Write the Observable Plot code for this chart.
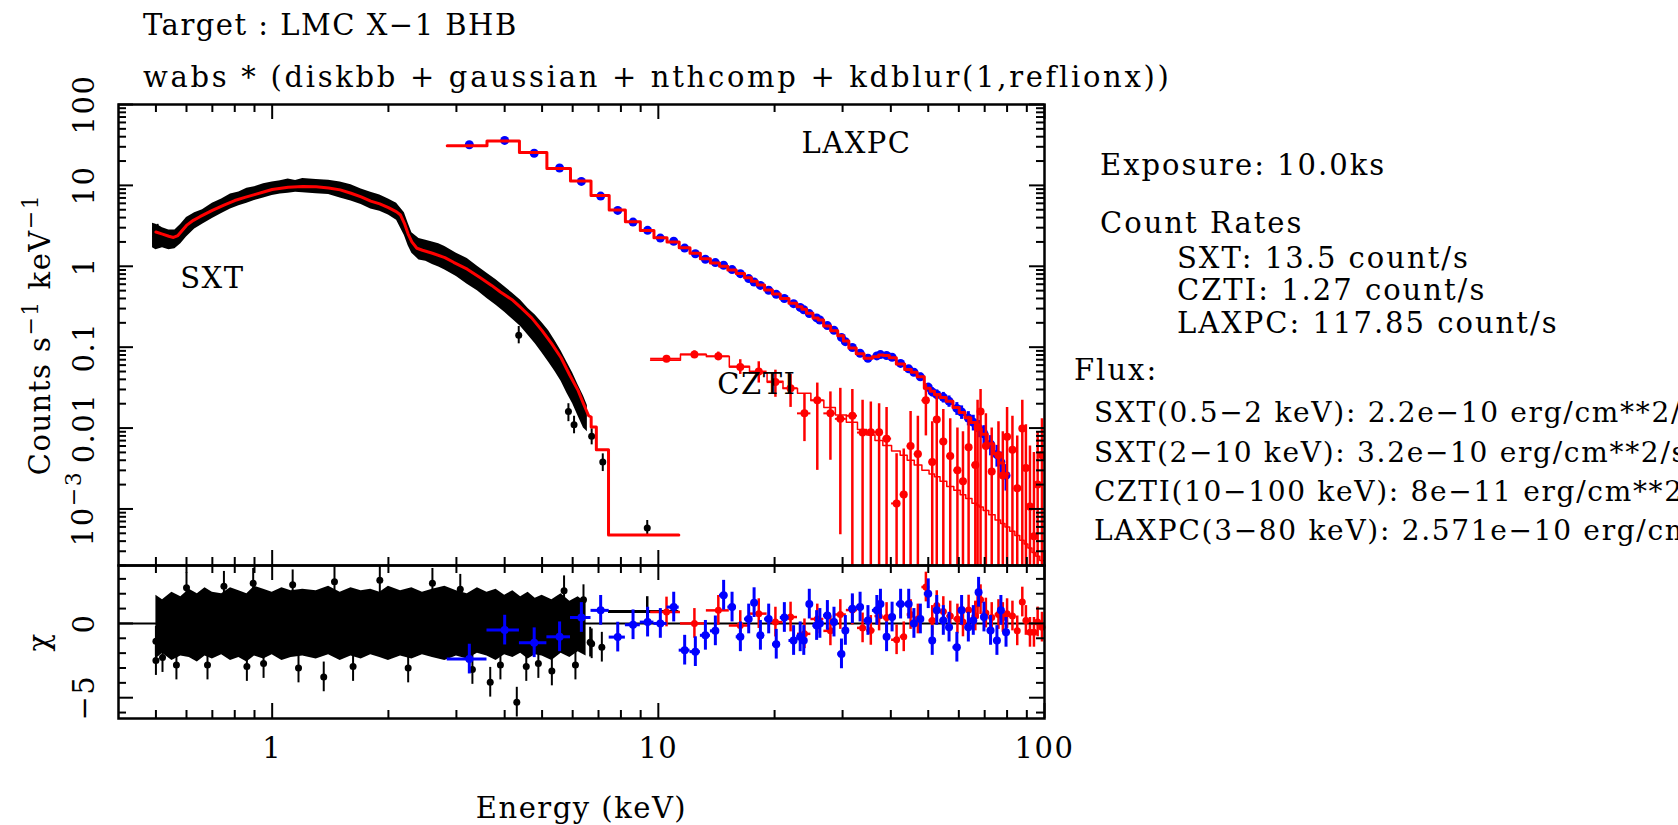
<!DOCTYPE html>
<html><head><meta charset="utf-8">
<script src="https://cdn.jsdelivr.net/npm/d3@7"></script>
<script src="https://cdn.jsdelivr.net/npm/@observablehq/plot@0.6"></script>
<style>
body{margin:0;background:#fff;overflow:hidden}
#wrap{position:relative;width:1678px;height:825px;overflow:hidden;background:#fff}
#wrap svg{position:absolute;left:0}
</style></head><body><div id="wrap"></div>
<script>
// ---------------- DATA ----------------
// SXT folded model (counts/s/keV)
const sxtModelE = [0.50,0.52,0.54,0.555,0.57,0.60,0.625,0.65,0.70,0.75,0.80,0.85,0.90,0.95,1.0,1.1,1.2,1.3,1.4,1.5,1.6,1.7,1.8,1.9,2.0,2.1,2.15,2.2,2.25,2.3,2.37,2.45,2.6,2.8,2.95,3.2,3.46,3.7,3.9,4.2,4.4,4.7,5.0,5.3,5.6,5.9,6.2,6.4,6.6,6.70];
const sxtModelC = [2.65,2.5,2.35,2.27,2.4,3.2,3.7,4.1,4.9,5.7,6.5,7.1,7.7,8.3,8.9,9.5,9.7,9.6,9.3,8.8,8.0,7.2,6.4,5.9,5.3,4.7,4.3,3.4,2.5,2.0,1.67,1.58,1.45,1.28,1.12,0.92,0.72,0.58,0.48,0.38,0.31,0.23,0.16,0.11,0.074,0.045,0.029,0.020,0.0142,0.0137];
// SXT model last wide bins (step)
const sxtTailLo = [6.70,6.91,7.43];
const sxtTailHi = [6.91,7.43,11.3];
const sxtTailC  = [0.0103,0.0054,4.78e-4];
// SXT data envelope (dense black band of points + error bars)
const sxtBandE  = [0.49,0.50,0.52,0.54,0.56,0.58,0.60,0.63,0.66,0.70,0.74,0.78,0.82,0.86,0.90,0.95,1.0,1.05,1.1,1.15,1.2,1.3,1.4,1.5,1.6,1.7,1.8,1.9,2.0,2.1,2.2,2.25,2.3,2.4,2.5,2.6,2.7,2.8,3.0,3.2,3.4,3.6,3.8,4.0,4.2,4.4,4.6,4.8,5.0,5.2,5.4,5.6,5.8,6.0,6.2,6.4,6.55];
const sxtBandHi = [3.4,3.3,3.0,2.8,2.8,3.3,4.0,4.6,5.0,6.0,6.8,7.8,8.3,9.2,9.6,10.5,11.0,11.4,12.0,11.5,12.2,11.8,11.6,11.0,10.2,9.0,8.2,7.6,6.8,6.0,4.6,3.4,2.6,2.2,2.1,2.0,1.9,1.75,1.45,1.25,1.0,0.82,0.68,0.56,0.46,0.38,0.30,0.25,0.20,0.16,0.12,0.09,0.065,0.048,0.034,0.025,0.019];
const sxtBandLo = [1.7,1.6,1.7,1.6,1.65,1.9,2.3,2.9,3.3,3.9,4.5,5.1,5.6,6.0,6.5,7.0,7.5,7.8,8.0,8.2,8.1,7.9,7.7,7.0,6.4,5.8,5.1,4.8,4.3,3.7,2.4,1.8,1.45,1.2,1.15,1.05,0.98,0.9,0.75,0.6,0.5,0.40,0.33,0.27,0.22,0.18,0.14,0.11,0.085,0.065,0.05,0.038,0.027,0.02,0.014,0.010,0.009];
// isolated SXT points
const sxtPtE  = [0.50,0.505,4.35,5.85,6.05,6.72,7.18,9.36];
const sxtPtC  = [2.0,2.9,0.14,0.016,0.011,0.0079,0.0038,5.8e-4];
const sxtPtLo = [1.7,2.6,0.11,0.012,0.0085,0.0062,0.0029,4.6e-4];
const sxtPtHi = [2.4,3.3,0.18,0.020,0.014,0.0098,0.0048,7.2e-4];

// LAXPC data
const lxE = [3.24,4.00,4.77,5.55,6.32,7.09,7.85,8.60,9.38,10.12,10.96,11.70,12.47,13.24,14.05,14.76,15.52,16.31,17.14,17.7,18.38,19.31,20.2,21.2,22.4,23.3,23.8,24.6,25.7,26.2,27.4,28.5,29.8,30.5,31.8,33.3,34.9,36.8,37.6,39.0,40.3,42.4,44.5,45.9,47.7,50.0,51.2,52.6,54.7,56.6,59.3,61.0,63.5,65.4,67.5,69.7,72.5,75.3,77.1,79.5];
const lxC = [31.8,36.0,25.0,16.4,11.2,7.38,4.91,3.52,2.78,2.23,2.04,1.68,1.43,1.22,1.11,1.03,0.91,0.81,0.705,0.64,0.58,0.505,0.45,0.40,0.345,0.31,0.29,0.26,0.23,0.217,0.185,0.162,0.132,0.117,0.099,0.084,0.073,0.078,0.081,0.079,0.075,0.063,0.054,0.049,0.043,0.032,0.028,0.026,0.024,0.0215,0.0175,0.0158,0.0133,0.0118,0.0100,0.0085,0.0063,0.0047,0.0038,0.0026];
const lxErr = [0.03,0.03,0.03,0.03,0.03,0.03,0.03,0.03,0.03,0.03,0.03,0.03,0.03,0.03,0.03,0.03,0.03,0.03,0.03,0.03,0.04,0.04,0.04,0.04,0.04,0.04,0.04,0.04,0.04,0.04,0.05,0.05,0.05,0.05,0.05,0.06,0.06,0.06,0.06,0.06,0.07,0.08,0.09,0.10,0.11,0.12,0.13,0.14,0.15,0.16,0.18,0.19,0.20,0.22,0.24,0.26,0.28,0.30,0.33,0.36];
const lxModel = [31.0,35.5,25.5,16.2,11.3,7.5,4.95,3.55,2.76,2.25,2.0,1.70,1.45,1.24,1.10,1.00,0.90,0.815,0.72,0.655,0.585,0.51,0.455,0.40,0.35,0.315,0.295,0.262,0.23,0.217,0.183,0.16,0.138,0.119,0.098,0.083,0.073,0.076,0.080,0.079,0.074,0.062,0.053,0.049,0.043,0.031,0.0285,0.026,0.0238,0.0215,0.018,0.0156,0.0134,0.0117,0.0098,0.0084,0.0064,0.0048,0.0037,0.0027];
const lxChi = [-2.4,-0.45,-1.3,-0.9,0.4,0.88,-0.92,-0.09,0.09,0.0,1.1,-1.8,-1.9,-0.8,-0.5,1.9,1.1,-0.9,0.3,1.4,-0.8,0.3,-1.4,0.4,-1.15,-0.9,-1.15,1.3,-0.14,0.0,0.54,0.09,-2.05,-0.47,0.99,1.1,0.2,0.88,1.3,-0.9,0.43,1.3,1.3,0.0,0.3,2.0,-1.15,0.88,0.2,-0.25,-1.6,0.88,-0.25,0.2,2.1,0.43,-0.47,-1.15,0.88,-0.6];
const lxFirstEdge = 2.84, lxLastEdge = 80.5;

// CZTI data
const czE = [10.5,12.4,14.3,16.3,18.2,20.1,22.0,23.9,25.8,27.9,29.6,31.8,33.8,35.5,37.3,39.0,41.4,43.2,45.0,47.0,49.3,51.2,52.6,54.7,57.0,59.5,61.5,63.6,66.2,67.1,68.3,70.5,73.0,76.0,78.0,80.0,82.6,85.0,87.6,89.5,91.7,93.9,96.0,98.5];
const czC = [0.072,0.081,0.077,0.057,0.050,0.037,0.031,0.0152,0.022,0.0152,0.013,0.0142,0.0088,0.0089,0.0089,0.0074,0.00117,0.00151,0.006,0.00477,0.022,0.0038,0.0128,0.0068,0.0045,0.003,0.0022,0.0058,0.0035,0.0103,0.016,0.006,0.0029,0.0046,0.0026,0.0078,0.0054,0.0018,0.0099,0.0032,0.00107,0.00046,0.002,0.0046];
const czHi = [0.079,0.090,0.087,0.070,0.066,0.052,0.046,0.026,0.036,0.028,0.031,0.030,0.022,0.021,0.020,0.018,0.0048,0.0055,0.016,0.014,0.035,0.012,0.025,0.017,0.013,0.010,0.009,0.014,0.011,0.022,0.030,0.015,0.010,0.012,0.009,0.018,0.014,0.008,0.022,0.011,0.006,0.005,0.009,0.013];
const czLo = [0.066,0.073,0.068,0.046,0.036,0.024,0.018,0.0068,0.003,0.004,0.00048,1e-6,1e-6,1e-6,1e-6,1e-6,1e-6,1e-6,1e-6,1e-6,0.008,1e-6,1e-6,1e-6,1e-6,1e-6,1e-6,1e-6,1e-6,1e-6,1e-6,1e-6,1e-6,1e-6,1e-6,1e-6,1e-6,1e-6,1e-6,1e-6,1e-6,1e-6,1e-6,1e-6];
const czModel = [0.069,0.082,0.077,0.058,0.048,0.038,0.031,0.027,0.022,0.018,0.0145,0.0118,0.0096,0.0082,0.0070,0.0061,0.0052,0.0046,0.0040,0.0035,0.0030,0.0027,0.0025,0.0022,0.0019,0.0017,0.0015,0.00135,0.00118,0.00112,0.00106,0.00096,0.00085,0.00073,0.00066,0.0006,0.00053,0.00047,0.00041,0.00037,0.00033,0.00029,0.00026,0.00023];
const czChi = [0.77,0.0,0.88,-0.14,0.66,0.09,0.43,-0.7,0.3,-0.5,0.6,0.9,-0.3,-0.47,0.5,0.4,-1.1,-0.9,0.6,0.3,2.45,0.2,1.2,0.8,0.5,0.3,0.1,0.9,0.5,1.3,1.6,0.7,0.4,0.6,0.4,0.66,0.5,-0.5,1.44,0.2,-0.6,-0.6,0.1,-0.25];
const czFirstEdge = 9.55, czLastEdge = 100;

// SXT residuals (delchi): dense band envelope + isolated points
const resBandE  = [0.50,0.52,0.55,0.58,0.61,0.64,0.67,0.70,0.74,0.78,0.82,0.86,0.90,0.95,1.0,1.06,1.12,1.2,1.3,1.4,1.5,1.6,1.7,1.8,1.9,2.0,2.15,2.3,2.45,2.6,2.8,3.0,3.2,3.4,3.6,3.8,4.0,4.2,4.4,4.6,4.8,5.0,5.3,5.6,5.9,6.2,6.5];
const resBandHi = [1.9,1.6,2.1,1.8,2.3,2.0,2.4,2.1,2.0,2.4,2.2,2.0,2.5,2.3,2.1,2.4,2.2,2.3,2.2,2.5,2.1,2.4,2.2,2.3,2.1,2.5,2.2,2.4,2.1,2.3,2.5,2.2,2.0,2.4,2.1,2.3,1.9,2.2,1.8,2.1,1.7,1.9,1.6,2.0,1.5,1.8,1.4];
const resBandLo = [-2.4,-2.0,-2.5,-2.2,-2.3,-2.6,-2.2,-2.4,-2.1,-2.5,-2.3,-2.6,-2.2,-2.4,-2.1,-2.5,-2.3,-2.2,-2.4,-2.1,-2.5,-2.2,-2.4,-2.1,-2.3,-2.5,-2.2,-2.4,-2.1,-2.3,-2.5,-2.2,-2.4,-2.0,-2.2,-2.5,-2.1,-2.3,-2.0,-2.4,-2.1,-2.2,-2.5,-2.0,-2.3,-1.9,-2.2];
const resPtE   = [0.50,0.50,0.52,0.565,0.60,0.68,0.75,0.86,0.893,0.95,1.13,1.17,1.36,1.45,1.62,1.9,2.25,2.6,3.07,3.3,3.67,3.9,4.30,4.55,4.89,5.3,5.7,6.1,6.4,6.66,6.72,7.14];
const resPtChi = [-1.2,-2.5,-2.3,-2.8,2.4,-2.8,2.5,-2.9,2.7,-2.7,2.6,-3.0,-3.6,2.8,-2.9,2.9,-3.0,2.7,2.3,-3.1,-3.96,-2.8,-5.3,-2.9,-2.7,-3.2,2.2,-2.8,1.6,-1.26,-1.37,-1.6];
const sxtLastE = [9.36], sxtLastChi = [0.8], sxtLastLo = [7.43], sxtLastHi = [11.3];

// Axis ticks and labels
const xMajor = [1, 10, 100];
const xMinor = [0.5,0.6,0.7,0.8,0.9,2,3,4,5,6,7,8,9,20,30,40,50,60,70,80,90];
const yMajor = [100, 10, 1, 0.1, 0.01, 0.001];
const yMajorLabels = ["100", "10", "1", "0.1", "0.01", ""];   // 10^-3 drawn with a raised exponent below
const yExpTick = 0.001, yExpBase = "10", yExpPow = "−3";
const rMajor = [0, -5];
const rMajorLabels = ["0", "−5"];
const rMinor = [3, 2, 1, -1, -2, -3, -4, -6];

const panelLabels = ["SXT", "LAXPC", "CZTI"];
const panelLabelE = [0.70, 32.6, 18.0];
const panelLabelC = [0.71, 33, 0.034];

const titleLine1 = "Target : LMC X−1 BHB";
const titleLine2 = "wabs * (diskbb + gaussian + nthcomp + kdblur(1,reflionx))";
const infoLines = ["Exposure: 10.0ks", "Count Rates", "SXT: 13.5 count/s", "CZTI: 1.27 count/s", "LAXPC: 117.85 count/s", "Flux:"];
const fluxLines = ["SXT(0.5−2 keV): 2.2e−10 erg/cm**2/s", "SXT(2−10 keV): 3.2e−10 erg/cm**2/s", "CZTI(10−100 keV): 8e−11 erg/cm**2/s", "LAXPC(3−80 keV): 2.571e−10 erg/cm**2/s"];

// ---------------- BUILD ----------------
const FONT = '"DejaVu Serif", serif';
const FS = 29;
const W = 1678, L = 118, R = 1044, T = 104, MID = 565, B = 718;
const FW = R - L, H1 = MID - T, H2 = B - MID;
const MAJ = 15, MIN = 8;

function edgesFrom(centers, first, last) {
  const e = [first];
  for (let i = 1; i < centers.length; i++) e.push(Math.sqrt(centers[i - 1] * centers[i]));
  e.push(last);
  return e;
}
function stepPoints(lo, hi, v) {
  const p = [];
  for (let i = 0; i < v.length; i++) { p.push({x: lo[i], y: v[i]}); p.push({x: hi[i], y: v[i]}); }
  return p;
}
const lxEdges = edgesFrom(lxE, lxFirstEdge, lxLastEdge);
const czEdges = edgesFrom(czE, czFirstEdge, czLastEdge);

const sxtModel = sxtModelE.map((e, i) => ({x: e, y: sxtModelC[i]}))
  .concat(stepPoints(sxtTailLo, sxtTailHi, sxtTailC));
const sxtBand = sxtBandE.map((e, i) => ({x: e, hi: sxtBandHi[i], lo: sxtBandLo[i]}));
const sxtPts = sxtPtE.map((e, i) => ({x: e, y: sxtPtC[i], lo: sxtPtLo[i], hi: sxtPtHi[i]}));
const lx = lxE.map((e, i) => ({x: e, y: lxC[i], lo: lxC[i] * (1 - lxErr[i]), hi: lxC[i] * (1 + lxErr[i]), e0: lxEdges[i], e1: lxEdges[i + 1], chi: lxChi[i]}));
const lxStep = stepPoints(lxEdges.slice(0, -1), lxEdges.slice(1), lxModel);
const cz = czE.map((e, i) => ({x: e, y: czC[i], lo: czLo[i], hi: czHi[i], e0: czEdges[i], e1: czEdges[i + 1], chi: czChi[i]}));
const czStep = stepPoints(czEdges.slice(0, -1), czEdges.slice(1), czModel);
const resBand = resBandE.map((e, i) => ({x: e, hi: resBandHi[i], lo: resBandLo[i]}));
const resPts = resPtE.map((e, i) => ({x: e, chi: resPtChi[i]}));
const sxtLast = sxtLastE.map((e, i) => ({x: e, chi: sxtLastChi[i], e0: sxtLastLo[i], e1: sxtLastHi[i]}));

const yMinor = [];
for (const d of [1e-4, 1e-3, 1e-2, 1e-1, 1, 10]) for (let m = 2; m <= 9; m++) { const v = m * d; if (v >= 2e-4) yMinor.push(v); }

function xTicks(H) {
  const s = {stroke: "black", strokeWidth: 2};
  return [
    Plot.tickX(xMajor, {x: d => d, insetTop: H - MAJ, ...s}),
    Plot.tickX(xMajor, {x: d => d, insetBottom: H - MAJ, ...s}),
    Plot.tickX(xMinor, {x: d => d, insetTop: H - MIN, ...s}),
    Plot.tickX(xMinor, {x: d => d, insetBottom: H - MIN, ...s})
  ];
}
function yTicks(major, minor) {
  const s = {stroke: "black", strokeWidth: 2};
  return [
    Plot.tickY(major, {y: d => d, insetRight: FW - MAJ, ...s}),
    Plot.tickY(major, {y: d => d, insetLeft: FW - MAJ, ...s}),
    Plot.tickY(minor, {y: d => d, insetRight: FW - MIN, ...s}),
    Plot.tickY(minor, {y: d => d, insetLeft: FW - MIN, ...s})
  ];
}
const style = {fontFamily: FONT, fontSize: FS + "px", background: "transparent", overflow: "visible", letterSpacing: "1.5px"};

const main = Plot.plot({
  width: W, height: MID, marginTop: T, marginBottom: 0, marginLeft: L, marginRight: W - R,
  x: {type: "log", domain: [0.4, 100], axis: null},
  y: {type: "log", domain: [2e-4, 100], axis: null},
  style,
  marks: [
    // SXT
    Plot.areaY(sxtBand, {x: "x", y1: "lo", y2: "hi", fill: "black"}),
    Plot.ruleX(sxtPts, {x: "x", y1: "lo", y2: "hi", stroke: "black", strokeWidth: 2}),
    Plot.dot(sxtPts, {x: "x", y: "y", r: 3.5, fill: "black"}),
    Plot.line(sxtModel, {x: "x", y: "y", stroke: "red", strokeWidth: 3, clip: true}),
    // LAXPC
    Plot.ruleX(lx, {x: "x", y1: "lo", y2: "hi", stroke: "blue", strokeWidth: 3}),
    Plot.dot(lx, {x: "x", y: "y", r: 4.5, fill: "blue"}),
    Plot.line(lxStep, {x: "x", y: "y", stroke: "red", strokeWidth: 3, clip: true}),
    // CZTI
    Plot.line(czStep, {x: "x", y: "y", stroke: "red", strokeWidth: 1.5, clip: true}),
    Plot.ruleX(cz, {x: "x", y1: "lo", y2: "hi", stroke: "red", strokeWidth: 2.5, clip: true}),
    Plot.ruleY(cz, {y: "y", x1: "e0", x2: "e1", stroke: "red", strokeWidth: 2, clip: true}),
    Plot.dot(cz, {x: "x", y: "y", r: 4, fill: "red", clip: true}),
    // panel labels
    Plot.text(panelLabels, {x: (d, i) => panelLabelE[i], y: (d, i) => panelLabelC[i], text: d => d, fontSize: FS, fill: "black", textAnchor: "middle", lineAnchor: "middle"}),
    // axes
    ...xTicks(H1),
    ...yTicks(yMajor, yMinor),
    Plot.text(yMajor, {y: d => d, text: (d, i) => yMajorLabels[i], frameAnchor: "left", rotate: -90, dx: -25, lineAnchor: "bottom", textAnchor: "middle", fontSize: FS}),
    Plot.frame({stroke: "black", strokeWidth: 2.5})
  ]
});
main.style.top = "0px";

const resid = Plot.plot({
  width: W, height: 825 - MID, marginTop: 0, marginBottom: 825 - B, marginLeft: L, marginRight: W - R,
  x: {type: "log", domain: [0.4, 100], axis: null},
  y: {domain: [-6.4, 3.9], axis: null},
  style,
  marks: [
    Plot.ruleY([0], {stroke: "black", strokeWidth: 2}),
    Plot.areaY(resBand, {x: "x", y1: "lo", y2: "hi", fill: "black"}),
    Plot.ruleX(resPts, {x: "x", y1: d => d.chi - 1, y2: d => d.chi + 1, stroke: "black", strokeWidth: 2}),
    Plot.dot(resPts, {x: "x", y: "chi", r: 3.5, fill: "black"}),
    Plot.ruleY(sxtLast, {y: "chi", x1: "e0", x2: "e1", stroke: "black", strokeWidth: 3}),
    Plot.ruleX(sxtLast, {x: "x", y1: d => d.chi - 1, y2: d => d.chi + 1, stroke: "black", strokeWidth: 2.5}),
    // CZTI
    Plot.ruleX(cz, {x: "x", y1: d => d.chi - 1, y2: d => d.chi + 1, stroke: "red", strokeWidth: 2.5}),
    Plot.ruleY(cz, {y: "chi", x1: "e0", x2: "e1", stroke: "red", strokeWidth: 2.5}),
    Plot.dot(cz, {x: "x", y: "chi", r: 3.5, fill: "red"}),
    // LAXPC
    Plot.ruleX(lx, {x: "x", y1: d => d.chi - 1, y2: d => d.chi + 1, stroke: "blue", strokeWidth: 3}),
    Plot.ruleY(lx, {y: "chi", x1: "e0", x2: "e1", stroke: "blue", strokeWidth: 3}),
    Plot.dot(lx, {x: "x", y: "chi", r: 4, fill: "blue"}),
    // axes
    ...xTicks(H2),
    ...yTicks(rMajor, rMinor),
    Plot.text(rMajor, {y: d => d, text: (d, i) => rMajorLabels[i], frameAnchor: "left", rotate: -90, dx: -25, lineAnchor: "bottom", textAnchor: "middle", fontSize: FS}),
    Plot.text(["χ"], {text: d => d, frameAnchor: "left", rotate: -90, dx: -70, lineAnchor: "bottom", textAnchor: "middle", fontSize: FS}),
    Plot.text(xMajor, {x: d => d, text: d => String(d), frameAnchor: "bottom", lineAnchor: "top", dy: 19, fontSize: FS}),
    Plot.text(["Energy (keV)"], {text: d => d, frameAnchor: "bottom", lineAnchor: "top", dy: 79, fontSize: FS}),
    Plot.frame({stroke: "black", strokeWidth: 2.5})
  ]
});
resid.style.top = MID + "px";

const wrap = document.getElementById("wrap");
wrap.appendChild(main);
wrap.appendChild(resid);

// title, axis title with exponents, and information text
const over = d3.select(wrap).append("svg")
  .attr("width", W).attr("height", 825)
  .style("top", "0px").style("pointer-events", "none")
  .style("font-family", FONT).style("font-size", FS + "px");
over.append("text").attr("x", 143).attr("y", 35).style("letter-spacing", "1.5px").text(titleLine1);
over.append("text").attr("x", 143).attr("y", 87).style("letter-spacing", "2.7px").text(titleLine2);

// y axis title with raised exponents
const yl = over.append("text")
  .attr("transform", `translate(50,${(T + MID) / 2}) rotate(-90)`)
  .attr("text-anchor", "middle").style("letter-spacing", "1.5px");
yl.append("tspan").text("Counts s");
yl.append("tspan").attr("dy", -12).attr("font-size", 22).text("−1");
yl.append("tspan").attr("dy", 12).text(" keV");
yl.append("tspan").attr("dy", -12).attr("font-size", 22).text("−1");

// 10^-3 tick label placed with the plot's y scale
const yExpPos = main.scale("y").apply(yExpTick);
const ex = over.append("text")
  .attr("transform", `translate(${L - 25},${yExpPos}) rotate(-90)`)
  .attr("text-anchor", "middle").style("letter-spacing", "1.5px");
ex.append("tspan").text(yExpBase);
ex.append("tspan").attr("dy", -12).attr("font-size", 22).text(yExpPow);

const info = over.append("g").style("letter-spacing", "2px");
const infoX = [1100, 1100, 1177, 1177, 1177, 1074];
const infoY = [175, 233, 268, 300, 333, 380];
infoLines.forEach((t, i) => info.append("text").attr("x", infoX[i]).attr("y", infoY[i]).text(t));
const flux = over.append("g").style("letter-spacing", "1.7px").style("font-size", "28px");
const fluxY = [422, 462, 501, 540];
fluxLines.forEach((t, i) => flux.append("text").attr("x", 1094).attr("y", fluxY[i]).text(t));
</script></body></html>
